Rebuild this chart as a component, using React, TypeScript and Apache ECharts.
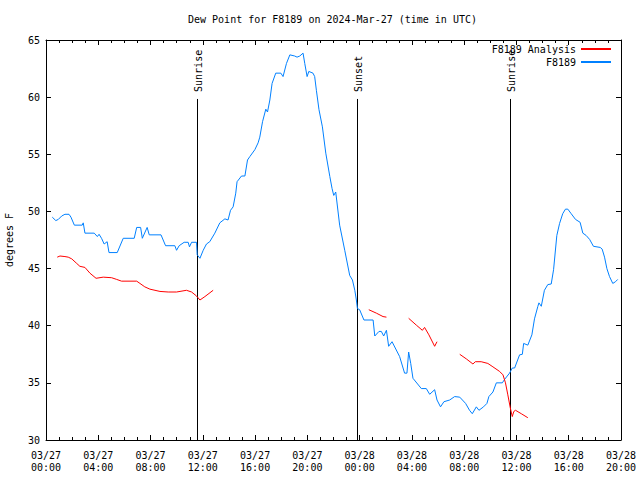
import React, { useEffect, useRef } from "react";
import * as echarts from "echarts";

const titleText = "Dew Point for F8189 on 2024-Mar-27 (time in UTC)";
const yAxisName = "degrees F";
const seriesNames = ["F8189 Analysis", "F8189"];

// hours since 03/27 00:00 UTC, dew point (F)
const blueF8189: [number, number][] = [
  [0.48, 49.5], [0.75, 49.2], [0.94, 49.3], [1.2, 49.6], [1.45, 49.75], [1.76, 49.75], [1.91, 49.5],
  [2.17, 48.8], [2.77, 48.8], [2.85, 49.0], [2.98, 48.1], [3.69, 48.1], [3.93, 47.8], [4.06, 48.0],
  [4.25, 47.65], [4.45, 47.15], [4.68, 47.35], [4.82, 46.4], [5.45, 46.4], [5.91, 47.65], [6.75, 47.65],
  [6.94, 48.6], [7.24, 48.6], [7.37, 47.65], [7.74, 48.6], [7.9, 47.95], [8.8, 47.95], [9.15, 47.0],
  [9.86, 47.0], [9.99, 46.6], [10.19, 47.0], [10.57, 47.3], [10.88, 47.3], [10.98, 46.9], [11.14, 47.3],
  [11.52, 47.3], [11.57, 46.2], [11.78, 45.9], [12.03, 46.6], [12.28, 47.15], [12.53, 47.35], [12.92, 48.1],
  [13.3, 49.0], [13.69, 49.35], [13.93, 49.25], [14.12, 50.1], [14.32, 50.4], [14.52, 51.6], [14.62, 52.6],
  [14.96, 53.1], [15.22, 53.1], [15.42, 54.5], [15.6, 54.8], [15.98, 55.4], [16.23, 56.0], [16.36, 56.5],
  [16.57, 57.85], [16.82, 58.95], [16.95, 58.7], [17.13, 59.75], [17.3, 61.2], [17.58, 62.1], [17.97, 62.1],
  [18.14, 61.8], [18.4, 62.95], [18.66, 63.7], [19.03, 63.6], [19.21, 63.5], [19.42, 63.6], [19.67, 63.85],
  [19.8, 62.95], [19.98, 61.8], [20.11, 62.25], [20.43, 62.1], [20.56, 61.8], [20.69, 60.6], [20.89, 58.9],
  [21.15, 57.4], [21.41, 55.1], [21.72, 53.05], [21.89, 52.0], [22.02, 51.4], [22.17, 51.7], [22.47, 48.8],
  [22.86, 46.6], [23.24, 44.4], [23.45, 44.0], [23.63, 43.1], [23.75, 42.25], [23.83, 41.5], [24.0, 41.4],
  [24.33, 40.5], [25.03, 40.5], [25.16, 39.1], [25.48, 39.5], [25.66, 39.5], [25.84, 39.1], [26.05, 39.6],
  [26.22, 38.2], [26.48, 38.6], [27.06, 37.3], [27.44, 35.85], [27.62, 35.85], [27.75, 37.7], [27.91, 36.7],
  [28.08, 35.4], [28.72, 34.5], [29.1, 34.5], [29.36, 34.0], [29.74, 34.4], [29.92, 33.5], [30.19, 32.9],
  [30.45, 33.35], [30.89, 33.5], [31.27, 33.8], [31.66, 33.75], [32.11, 33.2], [32.41, 32.6], [32.62, 32.3],
  [32.93, 32.9], [33.13, 32.6], [33.48, 32.9], [33.74, 33.2], [33.89, 33.8], [34.2, 34.2], [34.46, 35.0],
  [34.92, 35.0], [35.09, 35.3], [35.47, 35.85], [35.68, 36.3], [35.86, 36.3], [36.24, 37.45], [36.45, 37.5],
  [36.55, 38.45], [36.87, 38.3], [37.18, 39.2], [37.38, 40.6], [37.64, 41.7], [37.72, 42.0], [37.9, 41.7],
  [38.14, 43.1], [38.4, 43.6], [38.66, 43.65], [38.84, 44.9], [39.09, 47.9], [39.3, 48.95], [39.54, 49.8],
  [39.75, 50.2], [39.93, 50.2], [40.19, 49.8], [40.52, 49.3], [40.87, 49.05], [41.08, 48.1], [41.33, 47.9],
  [41.6, 47.55], [41.89, 46.95], [42.41, 46.85], [42.56, 46.7], [42.74, 46.0], [42.92, 45.0], [43.12, 44.3],
  [43.37, 43.7], [43.58, 43.85], [43.75, 44.05],
];

// analysis series, '-' marks a gap
const redAnalysis: [number, number | string][] = [
  [0.86, 46.0], [1.07, 46.1], [1.45, 46.05], [1.7, 46.0], [1.97, 45.85], [2.35, 45.45], [2.59, 45.2],
  [2.98, 45.1], [3.36, 44.6], [3.83, 44.15], [4.38, 44.25], [5.02, 44.2], [5.41, 44.05], [5.78, 43.9],
  [6.94, 43.9], [7.19, 43.7], [7.56, 43.4], [7.95, 43.2], [8.72, 43.0], [9.35, 42.95], [9.99, 42.95],
  [10.75, 43.1], [11.14, 42.95], [11.52, 42.6], [11.78, 42.25], [12.16, 42.55], [12.79, 43.1],
  [18, "-"],
  [24.7, 41.4], [25.28, 41.1], [25.79, 40.8], [26.05, 40.75],
  [27, "-"],
  [27.75, 40.65], [28.34, 40.05], [28.8, 39.6], [28.97, 39.85], [29.3, 39.2], [29.74, 38.2], [29.92, 38.6],
  [31, "-"],
  [31.66, 37.5], [32.16, 37.1], [32.67, 36.65], [32.85, 36.85], [33.3, 36.85], [33.81, 36.7], [34.2, 36.4],
  [34.71, 36.0], [34.97, 35.7], [35.16, 35.0], [35.34, 33.95], [35.53, 32.8], [35.68, 32.05], [35.8, 32.5],
  [35.93, 32.6], [36.37, 32.3], [36.87, 31.95],
];

const sunHours = [11.54, 23.82, 35.5];
const sunLabels = ["Sunrise", "Sunset", "Sunrise"];
const sunLineTop = 59.84;

const FONT = "DejaVu Sans Mono";

function fmtX(v: number) {
  const day = 27 + Math.floor(v / 24);
  const h = Math.round(v % 24);
  return `03/${day}\n${String(h).padStart(2, "0")}:00`;
}

export default function App() {
  const ref = useRef<HTMLDivElement>(null);
  useEffect(() => {
    document.body.style.margin = "0";
    const chart = echarts.init(ref.current!, null, { renderer: "svg" });
    const axisCommon = {
      type: "value",
      axisLine: { show: true, onZero: false, lineStyle: { color: "#000", width: 1 } },
      splitLine: { show: false },
    };
    const legendCommon = {
      right: 29,
      align: "right",
      padding: 0,
      itemWidth: 30,
      itemHeight: 2,
      icon: "rect",
      textStyle: { fontFamily: FONT, fontSize: 10, color: "#000" },
    };
    chart.setOption({
      animation: false,
      backgroundColor: "#fff",
      textStyle: { fontFamily: FONT },
      title: {
        text: titleText,
        left: 188,
        top: 14,
        padding: 0,
        textStyle: { fontFamily: FONT, fontSize: 10, fontWeight: "normal", color: "#000" },
      },
      legend: [
        { ...legendCommon, data: [seriesNames[0]], top: 44 },
        { ...legendCommon, data: [seriesNames[1]], top: 57 },
      ],
      grid: { left: 46, right: 19, top: 40, bottom: 40, containLabel: false, outerBoundsMode: "none" },
      xAxis: [
        {
          ...axisCommon,
          position: "bottom",
          min: 0,
          max: 44,
          interval: 4,
          axisTick: { show: true, inside: true, length: 5, lineStyle: { color: "#000" } },
          minorTick: { show: true, splitNumber: 4, length: 3, lineStyle: { color: "#000" } },
          axisLabel: {
            formatter: fmtX,
            fontFamily: FONT,
            fontSize: 10,
            color: "#000",
            margin: 9,
            lineHeight: 12,
          },
        },
        {
          ...axisCommon,
          position: "top",
          min: 0,
          max: 44,
          interval: 4,
          axisTick: { show: true, inside: true, length: 5, lineStyle: { color: "#000" } },
          minorTick: { show: true, splitNumber: 4, length: 3, lineStyle: { color: "#000" } },
          axisLabel: { show: false },
        },
      ],
      yAxis: [
        {
          ...axisCommon,
          position: "left",
          min: 30,
          max: 65,
          interval: 5,
          name: yAxisName,
          nameLocation: "middle",
          nameGap: 32,
          nameTextStyle: { fontFamily: FONT, fontSize: 10, color: "#000" },
          axisTick: { show: true, inside: true, length: 5, lineStyle: { color: "#000" } },
          axisLabel: { fontFamily: FONT, fontSize: 10, color: "#000", margin: 6 },
        },
        {
          ...axisCommon,
          position: "right",
          min: 30,
          max: 65,
          interval: 5,
          axisTick: { show: true, inside: true, length: 5, lineStyle: { color: "#000" } },
          axisLabel: { show: false },
        },
      ],
      series: [
        {
          type: "custom",
          name: "sun",
          silent: true,
          z: 1,
          data: sunHours.map((h) => [h, 30]),
          renderItem: (params: any, api: any) => {
            const t = api.value(0);
            const p0 = api.coord([t, 30]);
            const p1 = api.coord([t, sunLineTop]);
            const x = Math.round(p0[0]) + 0.5;
            return {
              type: "group",
              children: [
                {
                  type: "line",
                  shape: { x1: x, y1: p0[1], x2: x, y2: p1[1] },
                  style: { stroke: "#000", lineWidth: 1 },
                },
                {
                  type: "text",
                  x: x + 1,
                  y: p1[1] - 7,
                  rotation: Math.PI / 2,
                  style: {
                    text: sunLabels[params.dataIndex],
                    font: `10px "${FONT}"`,
                    fill: "#000",
                    textAlign: "left",
                    textVerticalAlign: "middle",
                  },
                },
              ],
            };
          },
        },
        {
          type: "line",
          name: seriesNames[0],
          data: redAnalysis,
          showSymbol: false,
          symbol: "none",
          connectNulls: false,
          z: 3,
          color: "#ff0000",
          lineStyle: { color: "#ff0000", width: 1 },
        },
        {
          type: "line",
          name: seriesNames[1],
          data: blueF8189,
          showSymbol: false,
          symbol: "none",
          z: 2,
          color: "#0080ff",
          lineStyle: { color: "#0080ff", width: 1 },
        },
      ],
    });
    return () => chart.dispose();
  }, []);
  return <div ref={ref} style={{ width: 640, height: 480 }} />;
}
